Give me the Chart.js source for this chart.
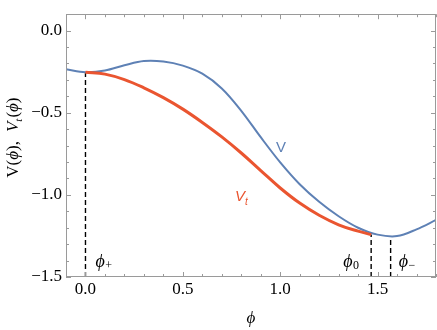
<!DOCTYPE html>
<html>
<head>
<meta charset="utf-8">
<script src="https://cdn.jsdelivr.net/npm/chart.js@4.4.1/dist/chart.umd.min.js"></script>
<style>
  html, body { margin: 0; padding: 0; background: #fff; }
  #chart { display: block; }
</style>
</head>
<body>
<canvas id="chart" width="437" height="330"></canvas>
<script>
// Potential V(phi) (blue)
const phiV = [-0.1, 0, 0.1, 0.2, 0.3, 0.4, 0.5, 0.6, 0.7, 0.8, 0.9, 1.0, 1.1, 1.2, 1.3, 1.4, 1.5, 1.6, 1.7, 1.8];
const valV = [-0.235, -0.253, -0.243, -0.211, -0.185, -0.188, -0.213, -0.262, -0.352, -0.488, -0.649, -0.802, -0.935, -1.042, -1.13, -1.2, -1.242, -1.251, -1.21, -1.153];

// Tunneling potential V_t(phi) (red), from phi+ to phi0
const phiT = [0, 0.1, 0.2, 0.3, 0.4, 0.5, 0.6, 0.7, 0.8, 0.9, 1.0, 1.1, 1.2, 1.3, 1.4, 1.467];
const valT = [-0.253, -0.265, -0.298, -0.348, -0.408, -0.478, -0.559, -0.647, -0.745, -0.852, -0.958, -1.05, -1.124, -1.182, -1.221, -1.242];

// Marked field values and the potential at each
const markNames = ['+', '0', '\u2212'];
const markPhi = [0, 1.467, 1.567];
const markTop = [-0.253, -1.242, -1.253];

// Axes
const xRange = [-0.1, 1.8];
const yRange = [-1.5, 0.1];
const xTicks = [0, 0.5, 1.0, 1.5];
const yTicks = [0, -0.5, -1.0, -1.5];

const blue = '#5E81B5';
const red = '#EA5530';
const frameColor = '#9a9a9a';
const serif = '"Liberation Serif", "Times New Roman", serif';
const sans = '"Liberation Sans", Arial, sans-serif';

const toPoints = (xs, ys) => xs.map((x, i) => ({ x: x, y: ys[i] }));

const markLines = markPhi.map((p, i) => ({
    data: [{ x: p, y: yRange[0] }, { x: p, y: markTop[i] }],
    showLine: true,
    borderColor: '#000',
    borderWidth: 1.4,
    borderDash: [5, 3],
    pointRadius: 0
}));

const fmt = v => (v < 0 ? '\u2212' : '') + Math.abs(v).toFixed(1);

// Draws text runs [text, font, dy, gapAfter] one after another
function drawRuns(ctx, runs, x, y) {
    let cx = x;
    runs.forEach(r => {
        ctx.font = r[1];
        ctx.fillText(r[0], cx, y + (r[2] || 0));
        cx += ctx.measureText(r[0]).width + (r[3] || 0);
    });
    return cx - x;
}
function runsWidth(ctx, runs) {
    let w = 0;
    runs.forEach(r => { ctx.font = r[1]; w += ctx.measureText(r[0]).width + (r[3] || 0); });
    return w;
}

const decorations = {
    id: 'decorations',
    afterDraw(chart) {
        const { ctx, chartArea: a, scales: { x, y } } = chart;
        ctx.save();

        // frame
        ctx.strokeStyle = frameColor;
        ctx.lineWidth = 1;
        ctx.strokeRect(Math.round(a.left) + 0.5, Math.round(a.top) + 0.5,
            Math.round(a.right - a.left) - 1, Math.round(a.bottom - a.top) - 1);

        // inward ticks on all four sides
        ctx.beginPath();
        for (let k = -1; k <= 18; k++) {
            const px = Math.round(x.getPixelForValue(k / 10)) + 0.5;
            const len = (k % 5 === 0) ? 5 : 3;
            ctx.moveTo(px, a.bottom); ctx.lineTo(px, a.bottom - len);
            ctx.moveTo(px, a.top); ctx.lineTo(px, a.top + len);
        }
        for (let k = -15; k <= 1; k++) {
            const py = Math.round(y.getPixelForValue(k / 10)) + 0.5;
            const len = (k % 5 === 0) ? 5 : 3;
            ctx.moveTo(a.left, py); ctx.lineTo(a.left + len, py);
            ctx.moveTo(a.right, py); ctx.lineTo(a.right - len, py);
        }
        ctx.stroke();

        ctx.fillStyle = '#000';
        ctx.textBaseline = 'alphabetic';
        ctx.textAlign = 'left';

        // phi markers
        const big = 'italic 18px ' + serif;
        const small = '12px ' + serif;
        const offs = [10, -28, 8];
        markPhi.forEach((p, i) => {
            const px = x.getPixelForValue(p) + offs[i];
            drawRuns(ctx, [['\u03D5', big, 0, 0.5], [markNames[i], small, 2]], px, 267);
        });

        // curve labels
        ctx.fillStyle = blue;
        ctx.font = '15px ' + sans;
        ctx.fillText('V', x.getPixelForValue(0.978), y.getPixelForValue(-0.738));
        ctx.fillStyle = red;
        drawRuns(ctx, [['V', 'italic 15px ' + sans, 0, 0], ['t', 'italic 10px ' + sans, 4]],
            x.getPixelForValue(0.768), y.getPixelForValue(-1.039));

        // x title
        ctx.fillStyle = '#000';
        ctx.font = 'italic 17px ' + serif;
        ctx.textAlign = 'center';
        ctx.fillText('\u03D5', (a.left + a.right) / 2, 323);

        // y title, rotated
        const f = '17px ' + serif, fi = 'italic 17px ' + serif, fs = 'italic 11px ' + serif;
        const runs = [['V(', f], ['\u03D5', fi], ['),', f, 0, 9], ['V', fi], ['t', fs, 4, 1], ['(', f], ['\u03D5', fi], [')', f]];
        ctx.textAlign = 'left';
        ctx.translate(18, (a.top + a.bottom) / 2 - 8);
        ctx.rotate(-Math.PI / 2);
        const w = runsWidth(ctx, runs);
        drawRuns(ctx, runs, -w / 2, 0);

        ctx.restore();
    }
};

new Chart(document.getElementById('chart'), {
    type: 'scatter',
    data: {
        datasets: [
            {
                data: toPoints(phiT, valT),
                showLine: true,
                borderColor: red,
                borderWidth: 3,
                pointRadius: 0,
                tension: 0.4
            },
            {
                data: toPoints(phiV, valV),
                showLine: true,
                borderColor: blue,
                borderWidth: 2,
                pointRadius: 0,
                tension: 0.35
            },
            ...markLines
        ]
    },
    options: {
        responsive: false,
        animation: false,
        layout: { padding: { top: 0, right: 1, bottom: 0, left: 0 } },
        plugins: { legend: { display: false }, tooltip: { enabled: false } },
        scales: {
            x: {
                type: 'linear',
                min: xRange[0],
                max: xRange[1],
                afterBuildTicks: s => { s.ticks = xTicks.map(v => ({ value: v })); },
                afterFit: s => { s.height = 53; },
                grid: { display: false, drawTicks: false },
                border: { display: false },
                ticks: {
                    color: '#000',
                    padding: 2,
                    maxRotation: 0,
                    font: { family: serif, size: 17 },
                    callback: v => fmt(v)
                }
            },
            y: {
                type: 'linear',
                min: yRange[0],
                max: yRange[1],
                afterBuildTicks: s => { s.ticks = yTicks.map(v => ({ value: v })); },
                afterFit: s => { s.width = 66; },
                grid: { display: false, drawTicks: false },
                border: { display: false },
                ticks: {
                    color: '#000',
                    padding: 4,
                    font: { family: serif, size: 17 },
                    callback: v => fmt(v)
                }
            }
        }
    },
    plugins: [decorations]
});
</script>
</body>
</html>
